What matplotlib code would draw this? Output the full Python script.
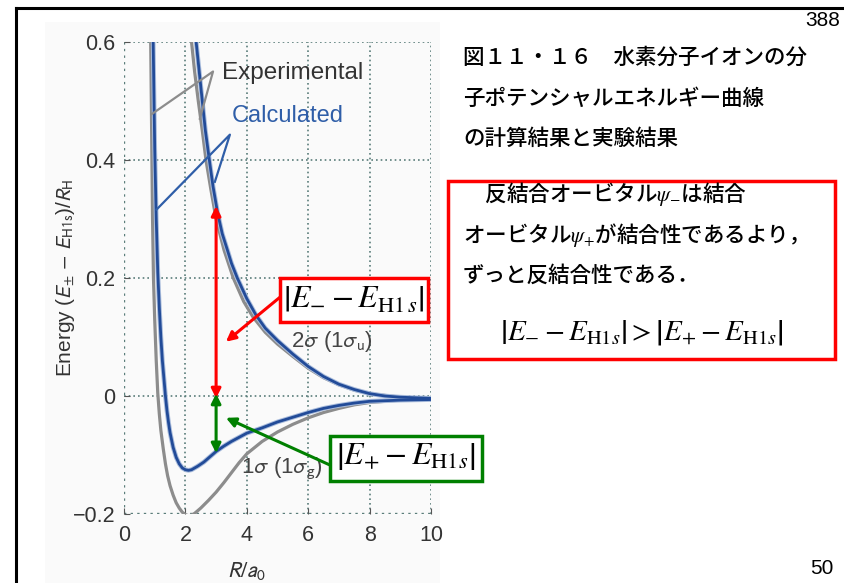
import matplotlib
matplotlib.use("Agg")
import matplotlib.pyplot as plt
from matplotlib.patches import Rectangle
from matplotlib.lines import Line2D

# ---------------- data ----------------
R_bond_calc = [0.95, 1.0, 1.05, 1.1, 1.15, 1.2, 1.25, 1.3, 1.35, 1.4, 1.45, 1.5, 1.6, 1.7, 1.8, 1.9,
               2.0, 2.1, 2.2, 2.4, 2.6, 2.8, 3.0, 3.25, 3.5, 3.75, 4.0, 4.5, 5.0, 5.5, 6.0, 6.5, 7.0,
               7.5, 8.0, 9.0, 10.0]
E_bond_calc = [0.60, 0.42, 0.30, 0.21, 0.15, 0.10, 0.06, 0.03, 0.0, -0.025, -0.045, -0.062, -0.087,
               -0.104, -0.115, -0.122, -0.125, -0.126, -0.125, -0.119, -0.112, -0.103, -0.094, -0.085,
               -0.077, -0.070, -0.063, -0.054, -0.044, -0.036, -0.028, -0.021, -0.016, -0.012, -0.009,
               -0.007, -0.006]

R_bond_exp = [0.87, 0.90, 0.93, 0.96, 1.0, 1.05, 1.1, 1.15, 1.2, 1.28, 1.35, 1.42, 1.5, 1.6, 1.7,
              1.8, 1.9, 2.0, 2.1, 2.2, 2.3, 2.5, 2.75, 3.0, 3.25, 3.5, 3.75, 4.0, 4.5, 5.0, 5.5, 6.0,
              6.5, 7.0, 7.5, 8.0, 9.0, 10.0]
E_bond_exp = [0.60, 0.45, 0.30, 0.20, 0.13, 0.06, 0.005, -0.03, -0.058, -0.090, -0.115, -0.135,
              -0.152, -0.168, -0.181, -0.190, -0.197, -0.201, -0.203, -0.202, -0.199, -0.190, -0.177,
              -0.163, -0.147, -0.130, -0.113, -0.098, -0.077, -0.061, -0.048, -0.037, -0.028, -0.021,
              -0.015, -0.011, -0.007, -0.006]

R_anti_calc = [2.35, 2.45, 2.55, 2.65, 2.78, 2.9, 3.05, 3.2, 3.37, 3.5, 3.69, 4.0, 4.3, 4.6, 5.0,
               5.5, 6.0, 6.5, 7.0, 7.5, 8.0, 8.5, 9.0, 10.0]
E_anti_calc = [0.60, 0.55, 0.50, 0.45, 0.40, 0.355, 0.31, 0.275, 0.247, 0.225, 0.20, 0.165, 0.137,
               0.115, 0.094, 0.071, 0.050, 0.033, 0.020, 0.011, 0.004, 0.0, -0.002, -0.004]

R_anti_exp = [2.2, 2.3, 2.42, 2.55, 2.67, 2.83, 3.0, 3.26, 3.56, 3.9, 4.2, 4.6, 5.0, 5.5, 6.0, 6.5,
              7.0, 7.5, 8.0, 9.0, 10.0]
E_anti_exp = [0.60, 0.55, 0.50, 0.45, 0.40, 0.35, 0.30, 0.247, 0.20, 0.16, 0.134, 0.108, 0.088,
              0.067, 0.047, 0.031, 0.019, 0.010, 0.004, -0.002, -0.004]

x_ticks = [0, 2, 4, 6, 8, 10]
y_ticks = [-0.2, 0, 0.2, 0.4, 0.6]
y_tick_labels = ["\u22120.2", "0", "0.2", "0.4", "0.6"]

title_lines = ["図１１・１６　水素分子イオンの分", "子ポテンシャルエネルギー曲線", "の計算結果と実験結果"]
box_lines = ["\u3000反結合オービタル$\\psi_{-}$は結合", "オービタル$\\psi_{+}$が結合性であるより，",
             "ずっと反結合性である．"]

# ---------------- figure ----------------
W, H = 845, 583
plt.rcParams['mathtext.fontset'] = 'stix'
fig = plt.figure(figsize=(W / 100, H / 100), dpi=100)
fig.patch.set_facecolor("white")


def fx(px):
    return px / W


def fy(py):
    return 1 - py / H


SANS = "Liberation Sans"
MSANS = "stixsans"

# slide frame
fig.add_artist(Line2D([fx(16), fx(845)], [fy(8), fy(8)], color="black", lw=2.2))
fig.add_artist(Line2D([fx(16), fx(16)], [fy(8), fy(583)], color="black", lw=2.2))
# faint picture background
fig.add_artist(Rectangle((fx(45), fy(583)), fx(440) - fx(45), fy(22) - fy(583),
                         facecolor="#fafafa", edgecolor="none", zorder=0))

ax = fig.add_axes([fx(124), fy(514), fx(431) - fx(124), fy(42) - fy(514)])
ax.set_facecolor("none")
ax.set_xlim(0, 10)
ax.set_ylim(-0.2, 0.6)
for s in ax.spines.values():
    s.set_visible(False)

grid_c = "#5a7d7a"
for xv in x_ticks:
    ax.axvline(xv, color=grid_c, lw=1.7 if xv == 0 else 1.2, ls=(0, (1, 1.8)), zorder=1)
for yv in y_ticks:
    ax.axhline(yv, color=grid_c, lw=1.7 if yv == -0.2 else 1.2, ls=(0, (1, 1.8)), zorder=1)

ax.set_xticks(x_ticks)
ax.set_yticks(y_ticks)
ax.set_yticklabels(y_tick_labels)
ax.tick_params(axis="both", direction="in", length=4, color="#555555", labelsize=15.5,
               labelcolor="#333333")
ax.tick_params(axis="x", pad=8)
ax.tick_params(axis="y", pad=6)
for lab in ax.get_xticklabels() + ax.get_yticklabels():
    lab.set_family(SANS)

ax.set_xlabel(r"$R/a_{0}$", fontsize=16, color="#333333", family=SANS, math_fontfamily=MSANS)
ax.xaxis.set_label_coords(0.397, -0.098)
ax.set_ylabel(r"Energy ($E_{\pm}$ $-$ $E_{\mathrm{H1s}}$)/$R_{\mathrm{H}}$", fontsize=15,
              color="#333333", family=SANS, math_fontfamily=MSANS, va="center")
ax.yaxis.set_label_coords(-0.19, 0.5)

gray = "#8c8c8c"
blue = "#224b98"
ax.plot(R_bond_exp, E_bond_exp, color=gray, lw=2.3, zorder=3)
ax.plot(R_anti_exp, E_anti_exp, color=gray, lw=2.3, zorder=3)
for Rs, Es in [(R_bond_calc, E_bond_calc), (R_anti_calc, E_anti_calc)]:
    ax.plot(Rs, Es, color="#a9bcdc", lw=3.4, zorder=4)
    ax.plot(Rs, Es, color=blue, lw=2.0, zorder=5)

# annotation leaders
ax.plot([0.91, 2.9, 2.47], [0.478, 0.55, 0.470], color=gray, lw=1.6, zorder=6)
ax.plot([1.06, 3.45, 2.96], [0.316, 0.443, 0.363], color="#2f5ea8", lw=1.6, zorder=6)
ax.text(3.2, 0.547, "Experimental", fontsize=17.5, color="#333333", va="center", ha="left",
        family=SANS)
ax.text(3.52, 0.474, "Calculated", fontsize=17, color="#2f5ea8", va="center", ha="left",
        family=SANS)
ax.text(5.45, 0.093, r"2$\sigma$ (1$\sigma_{\mathrm{u}}$)", fontsize=16, color="#444444",
        va="center", ha="left", family=SANS, math_fontfamily=MSANS)
ax.text(3.8, -0.122, r"1$\sigma$ (1$\sigma_{\mathrm{g}}$)", fontsize=16, color="#444444",
        va="center", ha="left", family=SANS, math_fontfamily=MSANS)

# arrows
ax.annotate("", xy=(3.0, 0.322), xytext=(3.0, -0.004),
            arrowprops=dict(arrowstyle="<|-|>", color="red", lw=2.2, mutation_scale=14,
                            shrinkA=0, shrinkB=0), zorder=7)
ax.annotate("", xy=(3.0, 0.004), xytext=(3.0, -0.097),
            arrowprops=dict(arrowstyle="<|-|>", color="green", lw=2.2, mutation_scale=14,
                            shrinkA=0, shrinkB=0), zorder=7)
ax.annotate("", xy=(3.32, 0.092), xytext=(5.14, 0.170),
            arrowprops=dict(arrowstyle="-|>", color="red", lw=2.2, mutation_scale=14,
                            shrinkA=0, shrinkB=0), zorder=7)
ax.annotate("", xy=(3.32, -0.037), xytext=(6.75, -0.118),
            arrowprops=dict(arrowstyle="-|>", color="green", lw=2.2, mutation_scale=14,
                            shrinkA=0, shrinkB=0), zorder=7)

# formula boxes on the chart
fig.add_artist(Rectangle((fx(280), fy(322)), fx(428) - fx(280), fy(278) - fy(322),
                         facecolor="white", edgecolor="red", lw=2.5, zorder=8))
fig.text(fx(354), fy(299), r"$\left|E_{-}-E_{\mathrm{H1}\,s}\right|$", fontsize=23,
         ha="center", va="center", zorder=9)
fig.add_artist(Rectangle((fx(330), fy(481)), fx(482) - fx(330), fy(436) - fy(481),
                         facecolor="white", edgecolor="green", lw=2.5, zorder=8))
fig.text(fx(406), fy(457), r"$\left|E_{+}-E_{\mathrm{H1}s}\right|$", fontsize=23,
         ha="center", va="center", zorder=9)

# right side text
cjk = ["Noto Sans CJK JP", "DejaVu Sans"]
fig.text(fx(840), fy(21), "388", fontsize=15, ha="right", va="center", family=SANS)
for i, line in enumerate(title_lines):
    fig.text(fx(463), fy(58 + i * 40.5), line, fontsize=15.5, ha="left", va="center", family=cjk,
             weight="medium")

fig.add_artist(Rectangle((fx(448), fy(359)), fx(835) - fx(448), fy(181) - fy(359),
                         facecolor="none", edgecolor="red", lw=2.5))
for i, line in enumerate(box_lines):
    fig.text(fx(463), fy(194 + i * 41), line, fontsize=15.5, ha="left", va="center", family=cjk,
             weight="medium")
fig.text(fx(642), fy(333), r"$\left|E_{-}-E_{\mathrm{H1}s}\right|>\left|E_{+}-E_{\mathrm{H1}s}\right|$",
         fontsize=21, ha="center", va="center")

fig.text(fx(834), fy(568), "50", fontsize=15, ha="right", va="center", family=SANS)

fig.savefig("out.png", dpi=100)
